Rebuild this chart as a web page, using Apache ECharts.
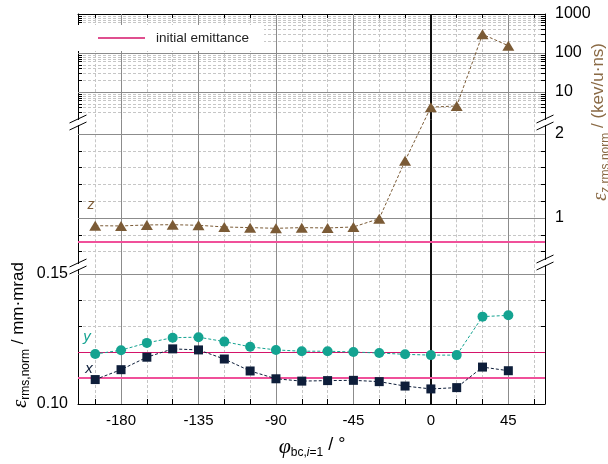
<!DOCTYPE html>
<html>
<head>
<meta charset="utf-8">
<script src="https://cdn.jsdelivr.net/npm/echarts@6/dist/echarts.min.js"></script>
<style>
  html, body { margin: 0; padding: 0; background: #fff; }
  #chart { width: 608px; height: 464px; }
</style>
</head>
<body>
<div id="chart"></div>
<script>
// buncher phase (deg)
var phi = [-195, -180, -165, -150, -135, -120, -105, -90, -75, -60, -45, -30, -15, 0, 15, 30, 45];
// normalized rms emittances
var epsX = [0.1094, 0.1132, 0.1180, 0.1212, 0.1208, 0.1173, 0.1127, 0.1097, 0.1088, 0.1090, 0.1091, 0.1086, 0.1069, 0.1058, 0.1063, 0.1142, 0.1128];
var epsY = [0.1192, 0.1207, 0.1235, 0.1255, 0.1257, 0.1240, 0.1220, 0.1208, 0.1203, 0.1203, 0.1200, 0.1196, 0.1191, 0.1188, 0.1188, 0.1336, 0.1341];
var epsZ = [0.908, 0.905, 0.917, 0.920, 0.913, 0.893, 0.885, 0.877, 0.885, 0.881, 0.893, 0.992, 1.68, 4.1, 4.4, 302, 154];
// initial emittance lines
var initXY = [0.1172, 0.1057];
var initZ = 0.718;

// ticks and labels
var xTicks = [-195, -180, -165, -150, -135, -120, -105, -90, -75, -60, -45, -30, -15, 0, 15, 30, 45, 60];
var xLabels = [-180, -135, -90, -45, 0, 45];
var xMajor = [-180, -135, -90, -45, 45];
var zLogTicks = [3, 4, 5, 6, 7, 8, 9, 10, 20, 30, 40, 50, 60, 70, 80, 90, 100, 200, 300, 400, 500, 600, 700, 800, 900, 1000];
var zLogLabels = [10, 100, 1000];
var zLogMajor = [10, 100];
var zLinTicks = [0.6, 0.8, 1.0, 1.2, 1.4, 1.6, 1.8, 2.0];
var zLinLabels = [1, 2];
var xyTicks = [0.10, 0.11, 0.12, 0.13, 0.14, 0.15];
var xyLabels = [0.10, 0.15];
var xyMajor = [0.15];

var zBreak = 2; // z values above this sit in the log panel

var cX = '#0e1e3a', cY = '#14a391', cZ = '#7b5b36';
var font = 'Liberation Sans';

function pairs(vals) {
  return phi.map(function (p, i) { return [p, vals[i]]; });
}
var zPairs = pairs(epsZ);
var zLow = zPairs.filter(function (d) { return d[1] < zBreak; });
var zHigh = zPairs.filter(function (d) { return d[1] >= zBreak; });

var dashGrid = { color: '#c6c6c6', type: [3, 2], width: 1 };
var solidGrid = { color: '#8c8c8c', type: 'solid', width: 1 };

function gridLines(yMajor) {
  var d = xMajor.map(function (v) { return { xAxis: v, lineStyle: solidGrid }; });
  yMajor.forEach(function (v) { d.push({ yAxis: v, lineStyle: solidGrid }); });
  d.push({ xAxis: 0, lineStyle: { color: '#111', width: 2, type: 'solid' } });
  return d;
}

function markLines(data) {
  return { silent: true, symbol: ['none', 'none'], label: { show: false }, animation: false, data: data };
}

function xAxisFor(g, extra) {
  return Object.assign({
    type: 'value', gridIndex: g, min: -205, max: 66.3,
    axisLine: { show: false },
    axisTick: { show: false, customValues: xTicks },
    axisLabel: { show: false },
    splitLine: { show: true, lineStyle: dashGrid }
  }, extra || {});
}

function yAxisFor(g, pos, base, extra) {
  return Object.assign({
    gridIndex: g, position: pos,
    axisLine: { show: true, onZero: false, lineStyle: { color: '#000', width: 1 } },
    axisTick: { show: true, inside: true, length: 4, lineStyle: { color: '#000' } },
    axisLabel: { show: false },
    splitLine: { show: false }
  }, base, extra || {});
}

var zLogBase = { type: 'log', logBase: 10, min: 2, max: 1000 };
var zLinBase = { type: 'value', min: 0.44, max: 2.175 };
var xyBase = { type: 'value', min: 0.10, max: 0.15346 };
var rightLabel = { show: true, color: '#000', fontSize: 16, fontFamily: font, margin: 10,
  formatter: function (v) { return String(v); } };

function ticks(vals) {
  return { show: true, inside: true, length: 4, customValues: vals, lineStyle: { color: '#000' } };
}

function breakMark(cx, cy) {
  return [
    { type: 'rect', z: 100, shape: { x: cx - 1.5, y: cy - 2.5, width: 3, height: 5 }, style: { fill: '#fff' } },
    { type: 'line', z: 101, shape: { x1: cx - 8.5, y1: cy + 0.5, x2: cx + 8.5, y2: cy - 7.5 }, style: { stroke: '#000', lineWidth: 1 } },
    { type: 'line', z: 101, shape: { x1: cx - 8.5, y1: cy + 7.5, x2: cx + 8.5, y2: cy - 0.5 }, style: { stroke: '#000', lineWidth: 1 } }
  ];
}

function zSeries(name, xi, yi, data) {
  return { type: 'line', name: name, xAxisIndex: xi, yAxisIndex: yi, data: data, z: 5, color: cZ,
    symbol: 'triangle', symbolSize: [12, 10], showAllSymbol: true,
    lineStyle: { color: cZ, width: 1, type: [3, 2] }, itemStyle: { color: cZ } };
}

var subRich = function (col) {
  return {
    e: { fontFamily: 'Liberation Serif', fontStyle: 'italic', fontSize: 21, verticalAlign: 'top', lineHeight: 21, fill: col },
    s: { fontFamily: font, fontSize: 12, verticalAlign: 'top', padding: [10, 0, 0, 0], lineHeight: 12, fill: col },
    m: { fontFamily: font, fontSize: 17, verticalAlign: 'top', lineHeight: 21, fill: col }
  };
};

var chart = echarts.init(document.getElementById('chart'), null, { renderer: 'canvas' });

var option = {
  animation: false,
  backgroundColor: '#fff',
  grid: [
    { left: 78, right: 63, top: 14, height: 105.3, outerBoundsMode: 'none' },
    { left: 78, right: 63, top: 119.3, height: 145.7, outerBoundsMode: 'none' },
    { left: 78, right: 63, top: 265, height: 139, outerBoundsMode: 'none' }
  ],
  legend: {
    data: [{ name: 'initial emittance', icon: 'rect' }],
    left: 78, top: 25, itemWidth: 47, itemHeight: 1.5,
    padding: [6, 15, 6, 20], backgroundColor: '#fff', borderWidth: 0,
    selectedMode: false, z: 20,
    formatter: '{t|{name}}',
    textStyle: {
      color: '#222',
      rich: { t: { fontSize: 13.5, fontFamily: font, color: '#222', padding: [0, 0, 0, 6], lineHeight: 16 } }
    }
  },
  xAxis: [
    xAxisFor(0, {
      position: 'top',
      axisLine: { show: true, onZero: false, lineStyle: { color: '#000', width: 1 } },
      axisTick: { show: true, inside: true, length: 4, customValues: xTicks, lineStyle: { color: '#000' } }
    }),
    xAxisFor(1),
    xAxisFor(2, {
      position: 'bottom',
      axisLine: { show: true, onZero: false, lineStyle: { color: '#000', width: 1 } },
      axisTick: { show: true, inside: true, length: 5, customValues: xTicks, lineStyle: { color: '#000' } },
      axisLabel: { show: true, customValues: xLabels, color: '#000', fontSize: 15, fontFamily: font, margin: 9 }
    })
  ],
  yAxis: [
    yAxisFor(0, 'left', zLogBase, { axisTick: ticks(zLogTicks), splitLine: { show: true, lineStyle: dashGrid } }),
    yAxisFor(0, 'right', zLogBase, { axisTick: ticks(zLogTicks), axisLabel: Object.assign({ customValues: zLogLabels }, rightLabel) }),
    yAxisFor(1, 'left', zLinBase, { axisTick: ticks(zLinTicks), splitLine: { show: true, lineStyle: dashGrid } }),
    yAxisFor(1, 'right', zLinBase, { axisTick: ticks(zLinTicks), axisLabel: Object.assign({ customValues: zLinLabels }, rightLabel) }),
    yAxisFor(2, 'left', xyBase, {
      axisTick: ticks(xyTicks),
      splitLine: { show: true, lineStyle: dashGrid },
      axisLabel: { show: true, customValues: xyLabels, color: '#000', fontSize: 16, fontFamily: font, margin: 10,
        formatter: function (v) { return v.toFixed(2); } }
    }),
    yAxisFor(2, 'right', xyBase, { axisTick: ticks(xyTicks) })
  ],
  series: [
    // solid major grid lines
    { type: 'line', name: 'gA', xAxisIndex: 0, yAxisIndex: 0, data: [], z: 1, markLine: markLines(gridLines(zLogMajor)) },
    { type: 'line', name: 'gB', xAxisIndex: 1, yAxisIndex: 2, data: [], z: 1, markLine: markLines(gridLines(zLinLabels)) },
    { type: 'line', name: 'gC', xAxisIndex: 2, yAxisIndex: 4, data: [], z: 1, markLine: markLines(gridLines(xyMajor)) },
    // initial emittance
    { type: 'line', name: 'initial emittance', xAxisIndex: 2, yAxisIndex: 4, data: [], z: 2, color: '#d4146a',
      markLine: markLines([
        { yAxis: initXY[0], lineStyle: { color: '#d4146a', width: 1.2, type: 'solid' } },
        { yAxis: initXY[1], lineStyle: { color: '#f0509a', width: 2, type: 'solid' } }
      ]) },
    { type: 'line', name: 'initZ', xAxisIndex: 1, yAxisIndex: 2, data: [], z: 2,
      markLine: markLines([{ yAxis: initZ, lineStyle: { color: '#f0509a', width: 2, type: 'solid' } }]) },
    // data
    zSeries('z', 0, 0, zHigh),
    zSeries('z2', 1, 2, zLow),
    { type: 'line', name: 'y', xAxisIndex: 2, yAxisIndex: 4, data: pairs(epsY), z: 5, color: cY,
      symbol: 'circle', symbolSize: 10, showAllSymbol: true,
      lineStyle: { color: cY, width: 1, type: [3, 2] }, itemStyle: { color: cY } },
    { type: 'line', name: 'x', xAxisIndex: 2, yAxisIndex: 4, data: pairs(epsX), z: 5, color: cX,
      symbol: 'rect', symbolSize: 9, showAllSymbol: true,
      lineStyle: { color: cX, width: 1, type: [3, 2] }, itemStyle: { color: cX } }
  ],
  graphic: [].concat(
    breakMark(78, 122.5), breakMark(78, 266.5), breakMark(545, 122.5), breakMark(545, 262.5),
    [
      { type: 'text', x: 91, y: 205, z: 50, style: { text: 'z', fill: cZ, font: 'italic 14px "Liberation Sans"', align: 'center', verticalAlign: 'middle' } },
      { type: 'text', x: 87, y: 337, z: 50, style: { text: 'y', fill: cY, font: 'italic 15px "Liberation Sans"', align: 'center', verticalAlign: 'middle' } },
      { type: 'text', x: 89, y: 369, z: 50, style: { text: 'x', fill: cX, font: 'italic 15px "Liberation Sans"', align: 'center', verticalAlign: 'middle' } },
      {
        type: 'text', x: 20, y: 335, rotation: Math.PI / 2, z: 50,
        style: { text: '{e|ε}{s|rms,norm}{m| / mm·mrad}', align: 'center', verticalAlign: 'middle', fill: '#000', rich: subRich('#000') }
      },
      {
        type: 'text', x: 600, y: 122, rotation: Math.PI / 2, z: 50,
        style: { text: '{e|ε}{s|z,rms,norm}{m| / (kev/u·ns)}', align: 'center', verticalAlign: 'middle', fill: '#8a6a45', rich: subRich('#8a6a45') }
      },
      {
        type: 'text', x: 312, y: 447, z: 50,
        style: {
          text: '{p|φ}{s|bc,}{i|i}{s|=1}{m| / °}', align: 'center', verticalAlign: 'middle', fill: '#000',
          rich: {
            p: { fontFamily: 'Liberation Serif', fontStyle: 'italic', fontSize: 22, verticalAlign: 'top', lineHeight: 22 },
            s: { fontFamily: font, fontSize: 12, verticalAlign: 'top', padding: [11, 0, 0, 0], lineHeight: 12 },
            i: { fontFamily: font, fontStyle: 'italic', fontSize: 12, verticalAlign: 'top', padding: [11, 0, 0, 0], lineHeight: 12 },
            m: { fontFamily: font, fontSize: 18, verticalAlign: 'top', lineHeight: 20 }
          }
        }
      }
    ]
  )
};

chart.setOption(option);

// dashed link of the z curve across the axis break, placed through both scales
var lastLow = zLow[zLow.length - 1], firstHigh = zHigh[0];
var p1 = chart.convertToPixel({ xAxisIndex: 1, yAxisIndex: 2 }, lastLow);
var p2 = chart.convertToPixel({ xAxisIndex: 0, yAxisIndex: 0 }, firstHigh);
option.graphic.push({
  type: 'line', z: 4, silent: true,
  shape: { x1: p1[0], y1: p1[1], x2: p2[0], y2: p2[1] },
  style: { stroke: cZ, lineWidth: 1, lineDash: [3, 2] }
});
chart.setOption(option);
</script>
</body>
</html>
